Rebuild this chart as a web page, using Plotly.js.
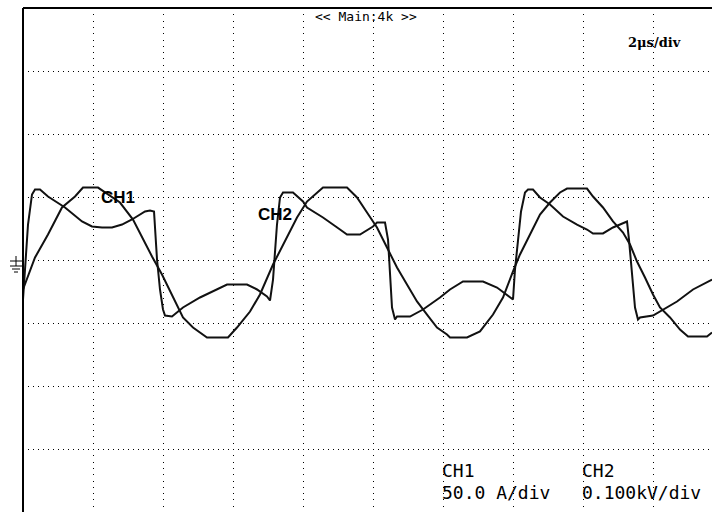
<!DOCTYPE html>
<html>
<head>
<meta charset="utf-8">
<script src="https://cdn.plot.ly/plotly-3.0.1.min.js"></script>
<style>
  html, body { margin: 0; padding: 0; overflow: hidden; background: #fff; }
  #chart { width: 712px; height: 512px; }
</style>
</head>
<body>
<div id="chart"></div>
<script>
// Time axis in microseconds (2 µs/div)
const timeCh1 = [0,0.343,0.714,1.114,1.486,1.714,2.143,2.771,3.143,3.4,
  3.686,3.971,4.286,4.571,4.857,5.257,5.857,6.114,6.486,6.771,
  7.143,7.543,7.829,8.114,8.571,9.257,9.543,9.829,10.114,10.4,
  10.686,10.971,11.257,11.543,11.829,12.114,12.2,12.686,13.057,13.429,
  13.714,14.0,14.2,14.486,14.771,15.057,15.343,15.543,16.114,16.286,
  16.571,16.857,17.143,17.343,17.543,17.771,18.0,18.2,18.486,18.771,
  19.0,19.543,19.686];
// CH1 current, A (50 A/div)
const ch1Amps = [-23.4,2.0,20.2,41.7,50.4,57.5,57.5,45.6,32.1,17.9,
  2.8,-11.5,-29.8,-45.6,-53.6,-61.5,-61.5,-53.6,-40.9,-27.4,
  -3.6,17.9,33.7,46.4,57.5,57.5,49.6,37.7,25.8,9.9,
  -6.0,-19.4,-32.9,-43.3,-53.6,-59.1,-61.5,-61.5,-56.7,-43.3,
  -29.8,-9.1,4.4,20.2,36.1,45.6,53.6,56.7,56.7,50.4,
  41.7,30.6,21.8,12.3,-1.2,-13.9,-27.4,-37.7,-45.6,-55.2,
  -60.7,-60.7,-57.5];

const timeCh2 = [0,0.086,0.143,0.257,0.343,0.486,0.714,1.2,1.686,1.971,
  2.257,2.543,2.829,3.114,3.486,3.629,3.743,3.829,3.914,4.0,
  4.057,4.257,4.571,5.057,5.543,5.829,6.4,6.686,6.971,7.057,
  7.143,7.2,7.257,7.343,7.429,7.714,8.0,8.114,8.571,9.057,
  9.257,9.629,10.0,10.114,10.343,10.429,10.486,10.543,10.629,10.686,
  11.057,11.429,11.914,12.2,12.571,13.143,13.543,13.914,14.0,14.057,
  14.143,14.229,14.343,14.429,14.571,14.771,15.057,15.429,15.829,16.114,
  16.286,16.571,16.857,17.114,17.257,17.314,17.4,17.486,17.571,17.629,
  18.0,18.2,18.686,19.143,19.686];
// CH2 voltage, V (0.100 kV/div)
const ch2Volts = [-62.7,0.8,56.3,104,111.9,111.9,100.8,83.3,61.1,53.2,
  51.6,51.6,56.3,64.3,77.0,78.6,77.0,0.8,-46.8,-78.6,
  -88.1,-89.7,-75.4,-59.5,-46.8,-38.9,-38.9,-46.8,-57.9,-64.3,
  -31.0,16.7,56.3,99.2,107.1,107.1,92.9,83.3,67.5,48.4,
  40.5,40.5,53.2,59.5,59.5,32.5,-23.0,-75.4,-94.4,-89.7,
  -89.7,-78.6,-59.5,-46.8,-34.1,-34.1,-43.7,-59.5,-62.7,-15.1,
  32.5,77.0,107.1,111.9,111.9,99.2,88.1,69.0,56.3,48.4,
  42.1,42.1,51.6,57.9,61.1,32.5,-23.0,-75.4,-94.4,-91.3,
  -88.1,-81.7,-65.9,-46.8,-31.0];

const headerText = "<< Main:4k >>";
const timebaseText = "2μs/div";
const ch1Label = "CH1";
const ch2Label = "CH2";
const ch1Scale = "50.0 A/div";
const ch2Scale = "0.100kV/div";

const W = 712, H = 512, L = 23, T = 8;
const pw = W - L, ph = H - T;
const px = x => (x - L) / pw;
const py = y => (H - y) / ph;

const traces = [
  { x: timeCh1, y: ch1Amps, type: 'scatter', mode: 'lines', name: 'CH1',
    line: { color: '#111', width: 2 }, yaxis: 'y', hoverinfo: 'skip' },
  { x: timeCh2, y: ch2Volts, type: 'scatter', mode: 'lines', name: 'CH2',
    line: { color: '#111', width: 2 }, yaxis: 'y2', hoverinfo: 'skip' }
];

const monoFont = { family: 'DejaVu Sans Mono, monospace', size: 18, color: '#000' };

function ann(text, x, y, font, xanchor) {
  return { text: text, xref: 'paper', yref: 'paper', x: px(x), y: py(y),
    xanchor: xanchor || 'center', yanchor: 'middle', showarrow: false, font: font,
    borderpad: 0 };
}

const annotations = [
  ann(headerText, 366, 16, { family: 'DejaVu Sans Mono, monospace', size: 13, color: '#000' }),
  ann('<b>' + timebaseText + '</b>', 654, 43, { family: 'DejaVu Serif, serif', size: 13, color: '#000' }),
  ann('<b>' + ch1Label + '</b>', 118, 197, { family: 'Liberation Sans, Arial, sans-serif', size: 17, color: '#000' }),
  ann('<b>' + ch2Label + '</b>', 275, 214, { family: 'Liberation Sans, Arial, sans-serif', size: 17, color: '#000' }),
  ann(ch1Scale === '' ? '' : ch1Label, 441, 470, monoFont, 'left'),
  ann(ch1Scale, 441, 492, monoFont, 'left'),
  ann(ch2Label, 581, 470, monoFont, 'left'),
  ann(ch2Scale, 581, 492, monoFont, 'left')
];

// frame (top and left) and ground marker
const shapes = [
  { type: 'line', xref: 'paper', yref: 'paper', x0: 0, x1: 1, y0: 1, y1: 1,
    line: { color: '#000', width: 2 } },
  { type: 'line', xref: 'paper', yref: 'paper', x0: 0, x1: 0, y0: 0, y1: 1,
    line: { color: '#000', width: 2 } }
];
const gnd = [[10, 261, 23, 261], [16, 256, 16, 266], [10, 266, 22, 266], [12, 269, 20, 269], [14, 272, 18, 272]];
gnd.forEach(g => shapes.push({ type: 'line', xref: 'paper', yref: 'paper',
  x0: px(g[0]), x1: px(g[2]), y0: py(g[1]), y1: py(g[3]), line: { color: '#000', width: 1 } }));

const layout = {
  width: W, height: H,
  margin: { l: L, r: 0, t: T, b: 0, pad: 0 },
  paper_bgcolor: '#fff', plot_bgcolor: '#fff',
  showlegend: false,
  xaxis: { range: [0, pw / 70 * 2], dtick: 2, tick0: 0, showgrid: true, gridcolor: '#000',
    gridwidth: 1, griddash: '1px,5.3px', zeroline: false, showticklabels: false, ticks: '',
    showline: false, fixedrange: true },
  yaxis: { range: [-200, 200], dtick: 50, tick0: 0, showgrid: true, gridcolor: '#000',
    gridwidth: 1, griddash: '1px,4px', zeroline: false, showticklabels: false, ticks: '',
    showline: false, fixedrange: true },
  yaxis2: { range: [-400, 400], overlaying: 'y', side: 'right', showgrid: false, zeroline: false,
    showticklabels: false, ticks: '', showline: false, fixedrange: true },
  annotations: annotations,
  shapes: shapes
};

Plotly.newPlot('chart', traces, layout, { staticPlot: true, displayModeBar: false });
</script>
</body>
</html>
